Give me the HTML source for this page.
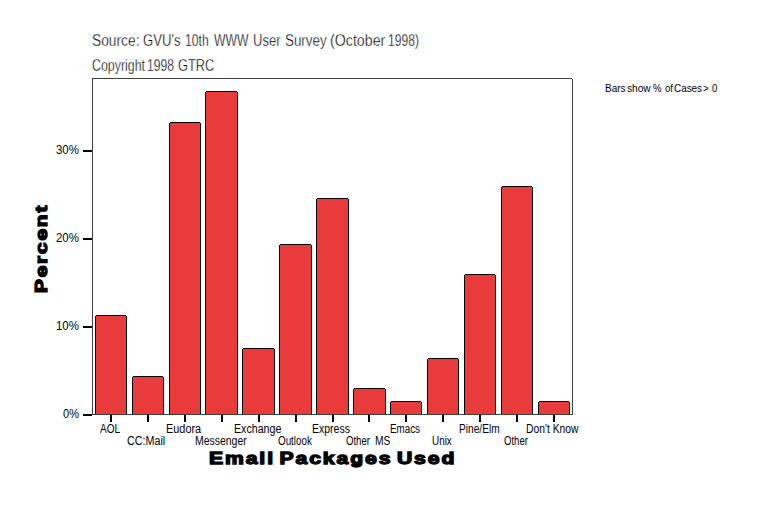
<!DOCTYPE html>
<html><head><meta charset="utf-8"><style>
html,body{margin:0;padding:0;background:#fff;width:760px;height:506px;overflow:hidden}
.t{position:absolute;font-family:"Liberation Sans",sans-serif;color:#000;white-space:pre;line-height:1;transform-origin:0 0}
svg{position:absolute;left:0;top:0}
</style></head><body>
<svg width="760" height="506" shape-rendering="crispEdges"><rect x="96" y="316" width="30" height="98" fill="#EA3B3C"/><rect x="96" y="315" width="30" height="1" fill="#000"/><rect x="95" y="316" width="1" height="98" fill="#000"/><rect x="126" y="316" width="1" height="98" fill="#000"/><rect x="110" y="415" width="2" height="7" fill="#000"/><rect x="133" y="377" width="30" height="37" fill="#EA3B3C"/><rect x="133" y="376" width="30" height="1" fill="#000"/><rect x="132" y="377" width="1" height="37" fill="#000"/><rect x="163" y="377" width="1" height="37" fill="#000"/><rect x="147" y="415" width="2" height="7" fill="#000"/><rect x="170" y="123" width="30" height="291" fill="#EA3B3C"/><rect x="170" y="122" width="30" height="1" fill="#000"/><rect x="169" y="123" width="1" height="291" fill="#000"/><rect x="200" y="123" width="1" height="291" fill="#000"/><rect x="184" y="415" width="2" height="7" fill="#000"/><rect x="206" y="92" width="31" height="322" fill="#EA3B3C"/><rect x="206" y="91" width="31" height="1" fill="#000"/><rect x="205" y="92" width="1" height="322" fill="#000"/><rect x="237" y="92" width="1" height="322" fill="#000"/><rect x="221" y="415" width="2" height="7" fill="#000"/><rect x="243" y="349" width="31" height="65" fill="#EA3B3C"/><rect x="243" y="348" width="31" height="1" fill="#000"/><rect x="242" y="349" width="1" height="65" fill="#000"/><rect x="274" y="349" width="1" height="65" fill="#000"/><rect x="258" y="415" width="2" height="7" fill="#000"/><rect x="280" y="245" width="31" height="169" fill="#EA3B3C"/><rect x="280" y="244" width="31" height="1" fill="#000"/><rect x="279" y="245" width="1" height="169" fill="#000"/><rect x="311" y="245" width="1" height="169" fill="#000"/><rect x="295" y="415" width="2" height="7" fill="#000"/><rect x="317" y="199" width="31" height="215" fill="#EA3B3C"/><rect x="317" y="198" width="31" height="1" fill="#000"/><rect x="316" y="199" width="1" height="215" fill="#000"/><rect x="348" y="199" width="1" height="215" fill="#000"/><rect x="332" y="415" width="2" height="7" fill="#000"/><rect x="354" y="389" width="31" height="25" fill="#EA3B3C"/><rect x="354" y="388" width="31" height="1" fill="#000"/><rect x="353" y="389" width="1" height="25" fill="#000"/><rect x="385" y="389" width="1" height="25" fill="#000"/><rect x="368" y="415" width="2" height="7" fill="#000"/><rect x="391" y="402" width="30" height="12" fill="#EA3B3C"/><rect x="391" y="401" width="30" height="1" fill="#000"/><rect x="390" y="402" width="1" height="12" fill="#000"/><rect x="421" y="402" width="1" height="12" fill="#000"/><rect x="405" y="415" width="2" height="7" fill="#000"/><rect x="428" y="359" width="30" height="55" fill="#EA3B3C"/><rect x="428" y="358" width="30" height="1" fill="#000"/><rect x="427" y="359" width="1" height="55" fill="#000"/><rect x="458" y="359" width="1" height="55" fill="#000"/><rect x="442" y="415" width="2" height="7" fill="#000"/><rect x="465" y="275" width="30" height="139" fill="#EA3B3C"/><rect x="465" y="274" width="30" height="1" fill="#000"/><rect x="464" y="275" width="1" height="139" fill="#000"/><rect x="495" y="275" width="1" height="139" fill="#000"/><rect x="479" y="415" width="2" height="7" fill="#000"/><rect x="502" y="187" width="30" height="227" fill="#EA3B3C"/><rect x="502" y="186" width="30" height="1" fill="#000"/><rect x="501" y="187" width="1" height="227" fill="#000"/><rect x="532" y="187" width="1" height="227" fill="#000"/><rect x="516" y="415" width="2" height="7" fill="#000"/><rect x="539" y="402" width="30" height="12" fill="#EA3B3C"/><rect x="539" y="401" width="30" height="1" fill="#000"/><rect x="538" y="402" width="1" height="12" fill="#000"/><rect x="569" y="402" width="1" height="12" fill="#000"/><rect x="553" y="415" width="2" height="7" fill="#000"/><rect x="92" y="78" width="480" height="1" fill="#404040"/><rect x="92" y="78" width="1" height="337" fill="#404040"/><rect x="572" y="79" width="1" height="336" fill="#404040"/><rect x="92" y="414" width="481" height="1" fill="#404040"/><rect x="83" y="414" width="9" height="2" fill="#000"/><rect x="83" y="326" width="9" height="2" fill="#000"/><rect x="83" y="238" width="9" height="2" fill="#000"/><rect x="83" y="150" width="9" height="2" fill="#000"/></svg>
<div class="t" style="left:92.08px;top:31.85px;font-size:15px;font-weight:normal;transform:scale(0.9184,1.05);-webkit-text-stroke:0.3px #fff;">Source:</div>
<div class="t" style="left:143.12px;top:31.85px;font-size:15px;font-weight:normal;transform:scale(0.8780,1.05);-webkit-text-stroke:0.3px #fff;">GVU&#x27;s</div>
<div class="t" style="left:185.19px;top:31.85px;font-size:15px;font-weight:normal;transform:scale(0.8148,1.05);-webkit-text-stroke:0.3px #fff;">10th</div>
<div class="t" style="left:214.00px;top:31.85px;font-size:15px;font-weight:normal;transform:scale(0.8095,1.05);-webkit-text-stroke:0.3px #fff;">WWW</div>
<div class="t" style="left:253.13px;top:31.85px;font-size:15px;font-weight:normal;transform:scale(0.8710,1.05);-webkit-text-stroke:0.3px #fff;">User</div>
<div class="t" style="left:285.11px;top:31.85px;font-size:15px;font-weight:normal;transform:scale(0.8913,1.05);-webkit-text-stroke:0.3px #fff;">Survey</div>
<div class="t" style="left:330.05px;top:31.85px;font-size:15px;font-weight:normal;transform:scale(0.9474,1.05);-webkit-text-stroke:0.3px #fff;">(October</div>
<div class="t" style="left:388.19px;top:31.85px;font-size:15px;font-weight:normal;transform:scale(0.8056,1.05);-webkit-text-stroke:0.3px #fff;">1998)</div>
<div class="t" style="left:92.17px;top:56.85px;font-size:15px;font-weight:normal;transform:scale(0.8254,1.05);-webkit-text-stroke:0.3px #fff;">Copyright</div>
<div class="t" style="left:147.19px;top:56.85px;font-size:15px;font-weight:normal;transform:scale(0.8125,1.05);-webkit-text-stroke:0.3px #fff;">1998</div>
<div class="t" style="left:178.15px;top:56.85px;font-size:15px;font-weight:normal;transform:scale(0.8537,1.05);-webkit-text-stroke:0.3px #fff;">GTRC</div>
<div class="t" style="left:605.10px;top:83.00px;font-size:11px;font-weight:normal;transform:scale(0.9048,1);">Bars</div>
<div class="t" style="left:627.08px;top:83.00px;font-size:11px;font-weight:normal;transform:scale(0.9200,1);">show</div>
<div class="t" style="left:653.15px;top:83.00px;font-size:11px;font-weight:normal;transform:scale(0.8700,1);">%</div>
<div class="t" style="left:664.59px;top:83.00px;font-size:11px;font-weight:normal;transform:scale(0.8700,1);">of</div>
<div class="t" style="left:674.10px;top:83.00px;font-size:11px;font-weight:normal;transform:scale(0.9000,1);">Cases</div>
<div class="t" style="left:703.46px;top:83.00px;font-size:11px;font-weight:normal;transform:scale(0.8700,1);">&gt;</div>
<div class="t" style="left:712.39px;top:83.00px;font-size:11px;font-weight:normal;transform:scale(0.8700,1);">0</div>
<div class="t" style="left:63.00px;top:408.00px;font-size:12.5px;font-weight:normal;transform:scale(0.8889,1);">0%</div>
<div class="t" style="left:56.08px;top:320.00px;font-size:12.5px;font-weight:normal;transform:scale(0.9167,1);">10%</div>
<div class="t" style="left:56.08px;top:232.00px;font-size:12.5px;font-weight:normal;transform:scale(0.9167,1);">20%</div>
<div class="t" style="left:56.08px;top:144.00px;font-size:12.5px;font-weight:normal;transform:scale(0.9167,1);">30%</div>
<div class="t" style="left:100.00px;top:423.00px;font-size:12.5px;font-weight:normal;transform:scale(0.8000,1);">AOL</div>
<div class="t" style="left:127.14px;top:435.00px;font-size:12.5px;font-weight:normal;transform:scale(0.8605,1);">CC:Mail</div>
<div class="t" style="left:166.13px;top:423.00px;font-size:12.5px;font-weight:normal;transform:scale(0.8718,1);">Eudora</div>
<div class="t" style="left:195.16px;top:435.00px;font-size:12.5px;font-weight:normal;transform:scale(0.8361,1);">Messenger</div>
<div class="t" style="left:234.15px;top:423.00px;font-size:12.5px;font-weight:normal;transform:scale(0.8519,1);">Exchange</div>
<div class="t" style="left:278.21px;top:435.00px;font-size:12.5px;font-weight:normal;transform:scale(0.7857,1);">Outlook</div>
<div class="t" style="left:312.16px;top:423.00px;font-size:12.5px;font-weight:normal;transform:scale(0.8409,1);">Express</div>
<div class="t" style="left:346.23px;top:435.00px;font-size:12.5px;font-weight:normal;transform:scale(0.7667,1);">Other</div>
<div class="t" style="left:375.18px;top:435.00px;font-size:12.5px;font-weight:normal;transform:scale(0.8235,1);">MS</div>
<div class="t" style="left:390.22px;top:423.00px;font-size:12.5px;font-weight:normal;transform:scale(0.7838,1);">Emacs</div>
<div class="t" style="left:432.21px;top:435.00px;font-size:12.5px;font-weight:normal;transform:scale(0.7917,1);">Unix</div>
<div class="t" style="left:459.19px;top:423.00px;font-size:12.5px;font-weight:normal;transform:scale(0.8125,1);">Pine/Elm</div>
<div class="t" style="left:504.23px;top:435.00px;font-size:12.5px;font-weight:normal;transform:scale(0.7667,1);">Other</div>
<div class="t" style="left:526.17px;top:423.00px;font-size:12.5px;font-weight:normal;transform:scale(0.8254,1);">Don&#x27;t Know</div>
<div class="t" style="left:209.00px;top:451.00px;font-size:16.75px;font-weight:bold;transform:scale(1.2629,1);letter-spacing:1.5px;word-spacing:-2.5px;-webkit-text-stroke:1.3px #000;">Email Packages Used</div>
<div class="t" style="left:0;top:0;font-size:16.75px;font-weight:bold;letter-spacing:1.5px;-webkit-text-stroke:1.3px #000;transform:translate(34px,293.00px) rotate(-90deg) scaleX(1.2394)">Percent</div>
</body></html>
